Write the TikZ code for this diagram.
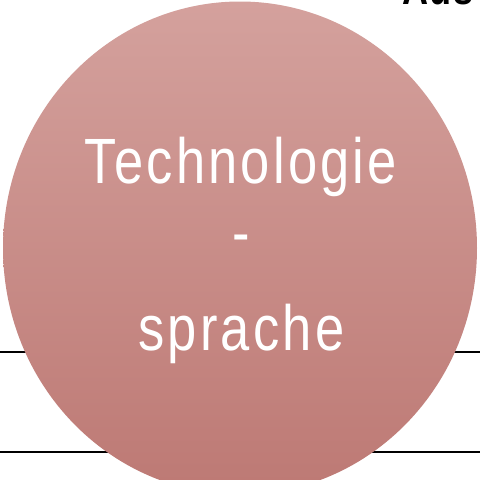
\documentclass[tikz,border=0pt]{standalone}
\usepackage{fontspec}
\setmainfont{Liberation Sans}
\newfontfamily\narrowfont[FakeStretch=0.82,LetterSpace=5]{Liberation Sans}
\newfontfamily\narrowboldfont[FakeStretch=0.82,LetterSpace=4]{Liberation Sans Bold}
\usetikzlibrary{shapes.geometric}
\definecolor{discTop}{RGB}{212,161,157}
\definecolor{discBottom}{RGB}{189,121,116}
\begin{document}
\begin{tikzpicture}[x=1pt,y=-1pt,
  disc/.style={ellipse, inner sep=0pt, minimum width=474pt, minimum height=493pt,
    top color=discTop, bottom color=discBottom, draw=none},
  disclabel/.style={text=white, font=\narrowfont\fontsize{64}{64}\selectfont,
    anchor=base, inner sep=0pt},
  heading/.style={text=black, font=\narrowboldfont\fontsize{44}{44}\selectfont,
    anchor=base west, inner sep=0pt},
  rule/.style={line width=2pt, black}]
\useasboundingbox (0,0) rectangle (480,480);
% horizontal rules behind the disc
\coordinate (r1w) at (0,352);
\coordinate (r1e) at (480,352);
\coordinate (r2w) at (0,452);
\coordinate (r2e) at (480,452);
\draw[rule] (r1w) -- (r1e);
\draw[rule] (r2w) -- (r2e);
% the disc and its label
\node[disc] (disc) at (240,248) {};
\node[disclabel] (line1) at (241,183) {Technologie};
\node[disclabel] (dash) at (241,254.5) {-};
\node[disclabel] (line2) at (241.5,350) {sprache};
% heading running off the top edge
\node[heading] (aus) at (402,4) {Aus};
\end{tikzpicture}
\end{document}
